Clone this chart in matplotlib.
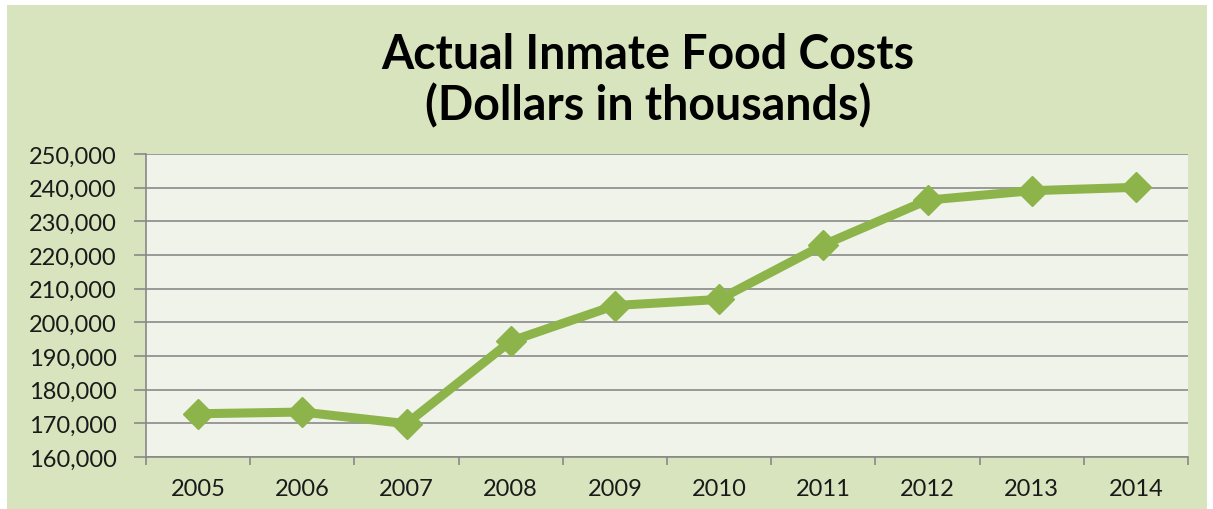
import matplotlib.pyplot as plt
from matplotlib.patches import Rectangle
from matplotlib.ticker import FuncFormatter

years = ["2005", "2006", "2007", "2008", "2009", "2010", "2011", "2012", "2013", "2014"]
costs = [172850, 173350, 169900, 194400, 205000, 206800, 223000, 236300, 239100, 240100]

plt.rcParams['font.family'] = ['Lato', 'DejaVu Sans']

fig = plt.figure(figsize=(12.13, 5.10), dpi=100)
fig.patch.set_facecolor("white")
# green chart-area background with thin white margin
fig.patches.append(Rectangle((7 / 1213, 0), 1200 / 1213, 504 / 510, transform=fig.transFigure,
                             facecolor="#d7e4bd", edgecolor="none", zorder=-5))

ax = fig.add_axes([146 / 1213, 1 - 458 / 510, (1188 - 146) / 1213, (458 - 155) / 510])
ax.set_zorder(2)
ax.set_facecolor("#f0f3e9")

x = list(range(len(years)))
ax.plot(x, costs, color="#8db44a", linewidth=6.5, marker="D", markersize=15,
        markeredgecolor="#8db44a", solid_joinstyle="miter", zorder=3, clip_on=False)

ax.set_xlim(-0.5, len(years) - 0.5)
ax.set_ylim(160000, 250000)
ax.set_yticks(range(160000, 250001, 10000))
ax.yaxis.set_major_formatter(FuncFormatter(lambda v, p: f"{int(v):,}"))
ax.set_xticks([i - 0.5 for i in range(len(years) + 1)])
ax.set_xticklabels([])
ax.set_xticks(x, minor=True)
ax.set_xticklabels(years, minor=True)
ax.tick_params(axis="x", which="minor", length=0, pad=15, labelsize=17, labelcolor="#1a1a1a")
ax.tick_params(axis="x", which="major", length=6, color="#888888", width=1.2)
ax.tick_params(axis="y", length=9, color="#888888", width=1.2, labelsize=17,
               labelcolor="#1a1a1a", pad=12)

ax.grid(axis="y", color="#8a8a8a", linewidth=1.2)
ax.set_axisbelow(True)
for side in ["top", "right"]:
    ax.spines[side].set_visible(False)
for side in ["left", "bottom"]:
    ax.spines[side].set_color("#888888")
    ax.spines[side].set_linewidth(1.2)

fig.text(648 / 1213, 1 - 55 / 510, "Actual Inmate Food Costs",
         ha="center", va="center", fontsize=33.5, fontweight="bold")
fig.text(648 / 1213, 1 - 106 / 510, "(Dollars in thousands)",
         ha="center", va="center", fontsize=33.5, fontweight="bold")

plt.savefig("out.png", dpi=100)
